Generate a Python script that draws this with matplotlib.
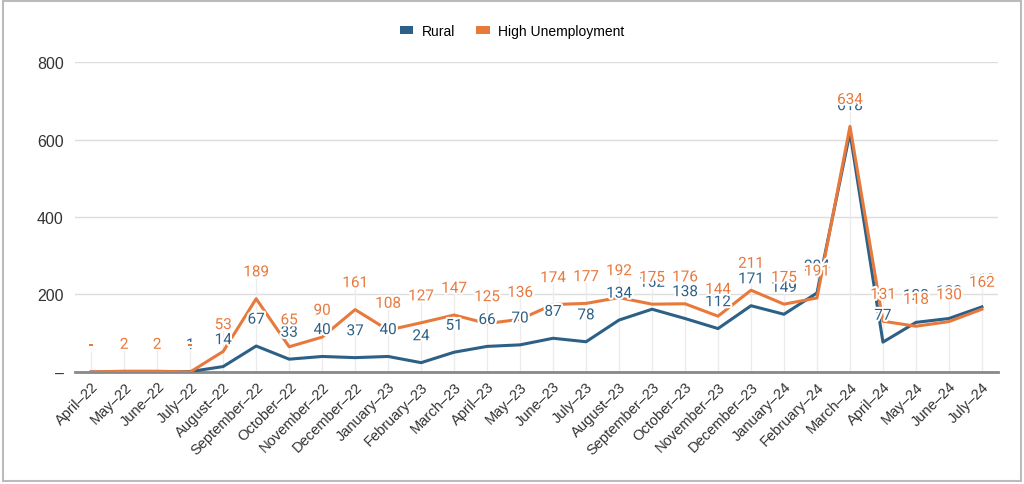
import matplotlib
matplotlib.use("Agg")
import matplotlib.pyplot as plt
import matplotlib.patheffects as pe
from matplotlib.patches import Patch, Rectangle
import numpy as np

months = ["April–22", "May–22", "June–22", "July–22", "August–22", "September–22",
          "October–22", "November–22", "December–22", "January–23", "February–23",
          "March–23", "April–23", "May–23", "June–23", "July–23", "August–23",
          "September–23", "October–23", "November–23", "December–23", "January–24",
          "February–24", "March–24", "April–24", "May–24", "June–24", "July–24"]
rural = [0, 0, 0, 1, 14, 67, 33, 40, 37, 40, 24, 51, 66, 70, 87, 78, 134,
         162, 138, 112, 171, 149, 204, 618, 77, 128, 138, 168]
high_unemp = [0, 2, 2, 0, 53, 189, 65, 90, 161, 108, 127, 147, 125, 136, 174, 177, 192,
              175, 176, 144, 211, 175, 191, 634, 131, 118, 130, 162]
yticks = [0, 200, 400, 600, 800]
ytick_labels = ["–", "200", "400", "600", "800"]

blue = "#2d6086"
orange = "#e8793c"

fig = plt.figure(figsize=(10.24, 4.85), dpi=100)
ax = fig.add_axes([0.073, 0.231, 0.902, 0.639])

x = np.arange(len(months))

# faint leader lines from the baseline up to the labels
tops = np.maximum(rural, high_unemp)
ax.vlines(x, 0, tops + 55, color="#ececec", linewidth=1, zorder=1)

ax.plot(x, rural, color=blue, linewidth=2.2, zorder=3)
ax.plot(x, high_unemp, color=orange, linewidth=2.2, zorder=3)

halo = [pe.withStroke(linewidth=3, foreground="white")]
for series, col, z in [(rural, blue, 5), (high_unemp, orange, 6)]:
    for xi, v in zip(x, series):
        txt = "-" if v == 0 else str(v)
        ax.annotate(txt, (xi, v), xytext=(0, 19), textcoords="offset points",
                    ha="center", va="center", color=col, fontsize=11,
                    fontfamily="Roboto", path_effects=halo, zorder=z)

ax.set_xlim(-0.5, len(months) - 0.5)
ax.set_ylim(0, 800)
ax.set_yticks(yticks)
ax.set_yticklabels(ytick_labels, fontsize=11.5, fontfamily="Liberation Sans", color="#333333")
ax.set_xticks(x)
ax.set_xticklabels(months, rotation=45, ha="right", rotation_mode="anchor",
                   fontsize=10.5, fontfamily="Liberation Sans", color="#333333")
ax.tick_params(axis="both", length=0)
ax.tick_params(axis="y", pad=8)
ax.tick_params(axis="x", pad=5)

ax.grid(axis="y", color="#dddddd", linewidth=1, zorder=0)
ax.set_axisbelow(True)
for s in ["top", "right", "left"]:
    ax.spines[s].set_visible(False)
ax.spines["bottom"].set_color("#888888")
ax.spines["bottom"].set_linewidth(2)
ax.spines["bottom"].set_zorder(2)

handles = [Patch(facecolor=blue, label="Rural"),
           Patch(facecolor=orange, label="High Unemployment")]
fig.legend(handles=handles, loc="center", bbox_to_anchor=(0.5, 0.934), ncol=2,
           frameon=False, handlelength=1.0, handleheight=0.5, handletextpad=0.6,
           columnspacing=1.5, prop={"family": "Liberation Sans", "size": 10})

fig.patches.append(Rectangle((0.003, 0.006), 0.994, 0.99, transform=fig.transFigure,
                             fill=False, edgecolor="#bbbbbb", linewidth=1.5))

fig.savefig("out.png", dpi=100)
